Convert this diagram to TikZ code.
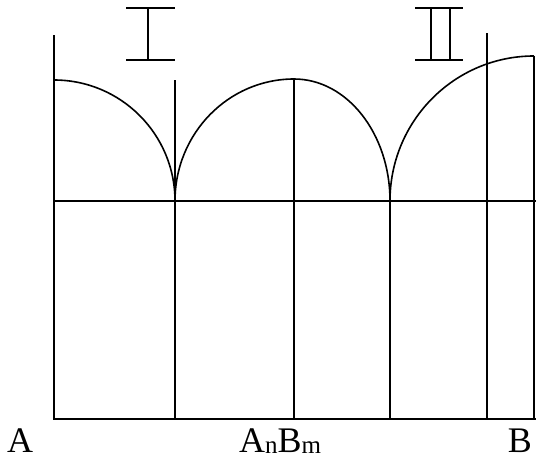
\documentclass[tikz,border=0pt]{standalone}
\usepackage{fontspec}
\setmainfont{Liberation Serif}
\begin{document}
\begin{tikzpicture}[x=1pt,y=-1pt,
  ln/.style={line width=1.6pt},
  lbl/.style={anchor=base,inner sep=0pt,font=\fontsize{36}{36}\selectfont}]
\useasboundingbox (0,0) rectangle (536,466);
% vertical lines
\coordinate (L0t) at (54,35);   \coordinate (L0b) at (54,419);
\coordinate (L1t) at (175,80);  \coordinate (L1b) at (175,419);
\coordinate (L2t) at (294,79);  \coordinate (L2b) at (294,419);
\coordinate (L3t) at (390,201); \coordinate (L3b) at (390,419);
\coordinate (L4t) at (487,33);  \coordinate (L4b) at (487,419);
\coordinate (L5t) at (534,56);  \coordinate (L5b) at (534,419);
\coordinate (Ml) at (54,201);   \coordinate (Mr) at (536,201);
\coordinate (Bl) at (53,419);   \coordinate (Br) at (536,419);
\draw[ln] (L0t) -- (L0b);
\draw[ln] (L1t) -- (L1b);
\draw[ln] (L2t) -- (L2b);
\draw[ln] (L3t) -- (L3b);
\draw[ln] (L4t) -- (L4b);
\draw[ln] (L5t) -- (L5b);
\draw[ln] (Ml) -- (Mr);
\draw[ln] (Bl) -- (Br);
% arcs
\coordinate (A0) at (54,80);
\coordinate (C1) at (175,201);
\coordinate (C2) at (390,201);
\draw[ln] (A0) arc[start angle=90,end angle=0,x radius=121,y radius=-121];
\draw[ln] (C1) arc[start angle=180,end angle=90,x radius=119,y radius=-122]
               arc[start angle=90,end angle=0,x radius=96,y radius=-122];
\draw[ln] (C2) arc[start angle=180,end angle=90,x radius=144,y radius=-145];
% roman numerals I and II
\draw[ln] (126,8) -- (175,8) (148,8) -- (148,60) (126,60) -- (175,60);
\draw[ln] (415,8) -- (463,8) (431,8) -- (431,60) (450,8) -- (450,60) (415,60) -- (463,60);
% labels
\node[lbl] (A) at (20,452) {A};
\node[lbl] (AB) at (280,452) {A\raisebox{-1pt}{\fontsize{25}{25}\selectfont n}B\raisebox{-1pt}{\fontsize{25}{25}\selectfont m}};
\node[lbl] (B) at (520,452) {B};
\end{tikzpicture}
\end{document}
